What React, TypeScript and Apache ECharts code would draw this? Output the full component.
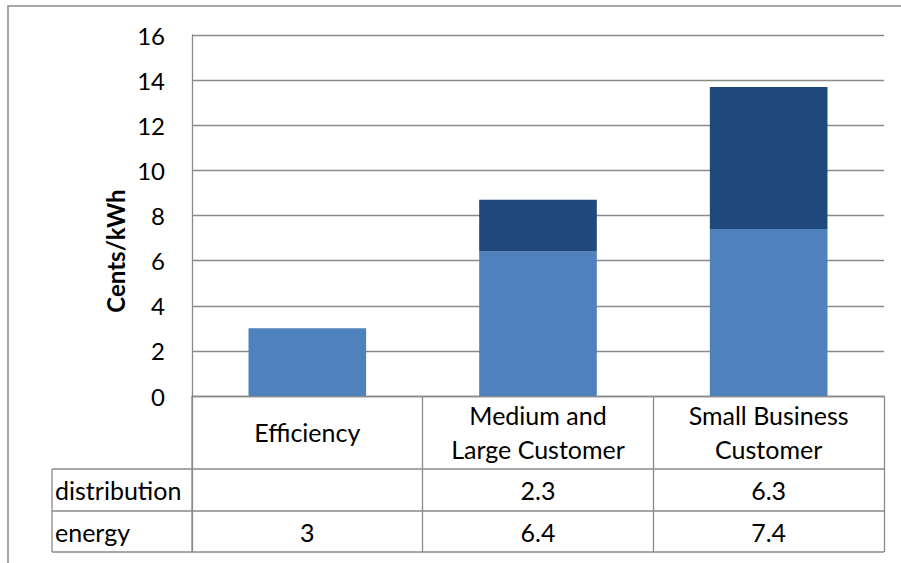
import React, { useEffect, useRef } from "react";
import * as echarts from "echarts";

const categories = ["Efficiency", "Medium and\nLarge Customer", "Small Business\nCustomer"];
const seriesNames = ["distribution", "energy"];
const distribution: (number | null)[] = [null, 2.3, 6.3];
const energy: (number | null)[] = [3, 6.4, 7.4];
const yTicks = { min: 0, max: 16, interval: 2 };
const axisTitle = "Cents/kWh";

const FONT = "Lato, 'Noto Sans', sans-serif";
const GRAY = "#8a8a8a";
const FS = 24;
const TFS = 25;

export default function App() {
  const ref = useRef<HTMLDivElement>(null);
  useEffect(() => {
    if (!ref.current) return;
    const chart = echarts.init(ref.current, undefined, { renderer: "svg" });
    const W = 901, H = 563;
    const gl = 192, gr = 884, gt = 35, gb = 396;
    const rowTop = 469, rowMid = 511, rowBot = 552, tableLeft = 52;
    const fmt = (v: number | null) => (v == null ? "" : String(v));
    const labelBase = { fontFamily: FONT, fontSize: FS, color: "#000" };
    const tableBase = { fontFamily: FONT, fontSize: TFS, color: "#000" };
    chart.setOption({
      animation: false,
      textStyle: { fontFamily: FONT },
      grid: { left: gl, right: W - gr, top: gt, bottom: H - gb, containLabel: false },
      xAxis: [
        {
          type: "category",
          data: categories,
          axisLine: { show: true, lineStyle: { color: GRAY, width: 1.3 } },
          axisTick: { show: true, length: rowBot - gb, lineStyle: { color: GRAY, width: 1.3 } },
          axisLabel: { ...tableBase, interval: 0, margin: 36, verticalAlign: "middle", lineHeight: 34 },
        },
        {
          type: "category",
          data: distribution.map(fmt),
          position: "bottom",
          axisLine: { show: false },
          axisTick: { show: false },
          axisLabel: { ...tableBase, interval: 0, margin: (rowTop + rowMid) / 2 - gb, verticalAlign: "middle" },
        },
        {
          type: "category",
          data: energy.map(fmt),
          position: "bottom",
          axisLine: { show: false },
          axisTick: { show: false },
          axisLabel: { ...tableBase, interval: 0, margin: (rowMid + rowBot) / 2 - gb, verticalAlign: "middle" },
        },
      ],
      yAxis: {
        type: "value",
        min: yTicks.min,
        max: yTicks.max,
        interval: yTicks.interval,
        axisLine: { show: true, lineStyle: { color: GRAY, width: 1.3 } },
        axisTick: { show: false },
        splitLine: { lineStyle: { color: GRAY, width: 1.3 } },
        axisLabel: { ...labelBase, margin: 27 },
      },
      series: [
        {
          name: seriesNames[1],
          type: "bar",
          stack: "total",
          data: energy,
          barWidth: "51%",
          itemStyle: { color: "#4F81BD" },
        },
        {
          name: seriesNames[0],
          type: "bar",
          stack: "total",
          data: distribution,
          barWidth: "51%",
          itemStyle: { color: "#1F497D" },
        },
      ],
      graphic: [
        {
          type: "rect",
          shape: { x: 8, y: 6, width: 1200, height: 1200 },
          style: { fill: "none", stroke: GRAY, lineWidth: 1.5 },
          silent: true,
        },
        ...[rowTop, rowMid, rowBot].map((y) => ({
          type: "line",
          shape: { x1: tableLeft, y1: y, x2: gr, y2: y },
          style: { stroke: GRAY, lineWidth: 1.3 },
        })),
        {
          type: "line",
          shape: { x1: tableLeft, y1: rowTop, x2: tableLeft, y2: rowBot },
          style: { stroke: GRAY, lineWidth: 1.3 },
        },
        {
          type: "line",
          shape: { x1: gl, y1: gb, x2: gl, y2: rowBot },
          style: { stroke: GRAY, lineWidth: 1.3 },
        },
        ...seriesNames.map((n, i) => ({
          type: "text",
          x: tableLeft + 3,
          y: i === 0 ? (rowTop + rowMid) / 2 : (rowMid + rowBot) / 2,
          style: { text: n, font: `${TFS}px ${FONT}`, fill: "#000", align: "left", verticalAlign: "middle" },
        })),
        {
          type: "text",
          x: 115,
          y: 251,
          rotation: Math.PI / 2,
          style: {
            text: axisTitle,
            font: `bold ${FS}px ${FONT}`,
            fill: "#000",
            align: "center",
            verticalAlign: "middle",
          },
        },
      ],
    });
    return () => chart.dispose();
  }, []);
  return (
    <div
      ref={ref}
      style={{ position: "fixed", left: 0, top: 0, width: 901, height: 563, background: "#fff" }}
    />
  );
}
